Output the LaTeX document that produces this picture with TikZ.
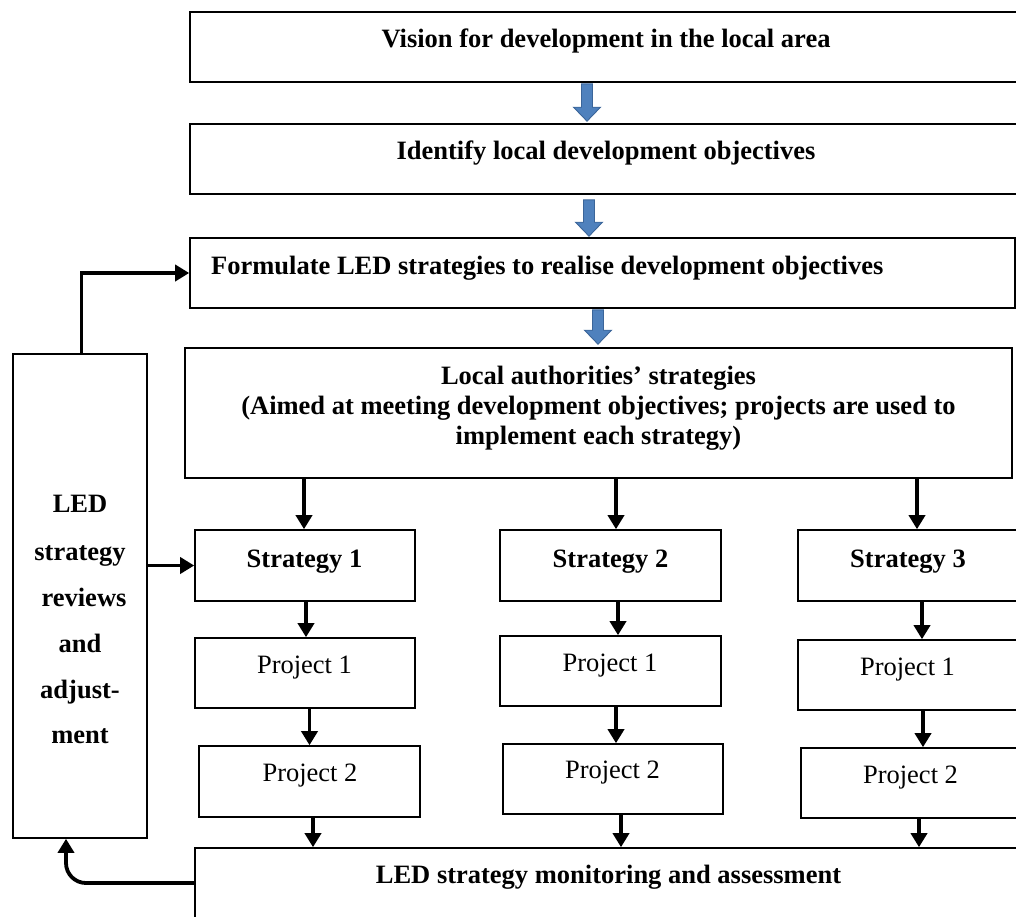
\documentclass[tikz,border=0pt]{standalone}
\usepackage{fontspec}
\setmainfont{Liberation Serif}
\usetikzlibrary{arrows.meta,calc}

\definecolor{ledblue}{HTML}{4F81BD}
\definecolor{ledblueedge}{HTML}{3B6599}

\tikzset{
  box/.style={draw=black, line width=1.6pt, fill=white, inner sep=0pt, rectangle},
  ttl/.style={font=\fontsize{26.5}{30}\selectfont\bfseries, anchor=base, inner sep=0pt},
  plain/.style={font=\fontsize{26.5}{30}\selectfont, anchor=base, inner sep=0pt},
  arr/.style={line width=3.6pt, -{Triangle[length=14pt,width=16pt]}},
  feed/.style={line width=3.8pt, -{Triangle[length=14pt,width=16pt]}},
}

% blue block arrow: #1 = top of the shaft, #2 = tip
\newcommand\ledblockarrow[2]{%
  \filldraw[fill=ledblue, draw=ledblueedge, line width=0.9pt, line join=miter]
    ($(#1)+(-5.5,0)$) -- ($(#1)+(5.5,0)$) -- ($(#2)+(5.5,-14)$) --
    ($(#2)+(13.5,-14)$) -- (#2) -- ($(#2)+(-13.5,-14)$) --
    ($(#2)+(-5.5,-14)$) -- cycle;}

\begin{document}
\begin{tikzpicture}[x=1pt, y=-1pt]
\useasboundingbox (0,0) rectangle (1016,916);
\clip (0,0) rectangle (1016,916);

% main chain
\node[box, minimum width=832pt, minimum height=70pt] (vision) at (606,47) {};
\node[box, minimum width=832pt, minimum height=70pt] (ident) at (606,159) {};
\node[box, minimum width=825pt, minimum height=70pt] (form) at (602.5,273) {};
\node[box, minimum width=827pt, minimum height=130pt] (local) at (598.5,413) {};

% strategies
\node[box, minimum width=220pt, minimum height=71pt] (s1) at (305,565.5) {};
\node[box, minimum width=221pt, minimum height=71pt] (s2) at (610.5,565.5) {};
\node[box, minimum width=220pt, minimum height=71pt] (s3) at (908,565.5) {};

% projects
\node[box, minimum width=220pt, minimum height=70pt] (p11) at (305,673) {};
\node[box, minimum width=221pt, minimum height=71pt] (p12) at (309.5,781.5) {};
\node[box, minimum width=221pt, minimum height=70pt] (p21) at (610.5,671) {};
\node[box, minimum width=220pt, minimum height=70pt] (p22) at (613,779) {};
\node[box, minimum width=219pt, minimum height=70pt] (p31) at (907.5,675) {};
\node[box, minimum width=219pt, minimum height=70pt] (p32) at (910.5,783) {};

% review box and monitoring box
\node[box, minimum width=134pt, minimum height=484pt] (lbox) at (80,596) {};
\node[box, minimum width=827pt, minimum height=70pt] (mon) at (608.5,883) {};

% texts
\node[ttl] (t-vision) at (606,47) {Vision for development in the local area};
\node[ttl] (t-ident) at (606,159) {Identify local development objectives};
\node[ttl, anchor=base west] (t-form) at (211,274) {Formulate LED strategies to realise development objectives};
\node[ttl] (t-local1) at (598.5,384) {Local authorities’ strategies};
\node[ttl] (t-local2) at (598.5,414) {(Aimed at meeting development objectives; projects are used to};
\node[ttl] (t-local3) at (598.5,444) {implement each strategy)};
\node[ttl] (t-s1) at (304.5,567) {Strategy 1};
\node[ttl] (t-s2) at (610.5,567) {Strategy 2};
\node[ttl] (t-s3) at (908,567) {Strategy 3};
\node[plain] (t-p11) at (304.5,673) {Project 1};
\node[plain] (t-p12) at (310,781) {Project 2};
\node[plain] (t-p21) at (610,671) {Project 1};
\node[plain] (t-p22) at (612.5,778) {Project 2};
\node[plain] (t-p31) at (907.5,675) {Project 1};
\node[plain] (t-p32) at (910.5,783) {Project 2};
\node[ttl] (t-mon) at (608.5,883) {LED strategy monitoring and assessment};
\node[ttl] (t-l1) at (80,512) {LED};
\node[ttl] (t-l2) at (80,560) {strategy};
\node[ttl] (t-l3) at (84,606) {reviews};
\node[ttl] (t-l4) at (80,652) {and};
\node[ttl] (t-l5) at (80,698) {adjust-};
\node[ttl] (t-l6) at (80,743) {ment};

% blue arrows down the main chain
\coordinate (b1s) at ([xshift=-19pt, yshift=-1pt]vision.south);
\coordinate (b1e) at ([xshift=-19pt, yshift=2pt]ident.north);
\coordinate (b2s) at ([xshift=-17pt, yshift=-5pt]ident.south);
\coordinate (b2e) at ([xshift=-13.5pt, yshift=1pt]form.north);
\coordinate (b3s) at ([xshift=-4.5pt, yshift=-1pt]form.south);
\coordinate (b3e) at ([xshift=-0.5pt, yshift=3pt]local.north);
\ledblockarrow{b1s}{b1e}
\ledblockarrow{b2s}{b2e}
\ledblockarrow{b3s}{b3e}

% strategies fed by the local authorities' box
\draw[arr] ([xshift=-1pt]s1.north |- local.south) -- ([xshift=-1pt]s1.north);
\draw[arr] ([xshift=5.5pt]s2.north |- local.south) -- ([xshift=5.5pt]s2.north);
\draw[arr] ([xshift=9pt]s3.north |- local.south) -- ([xshift=9pt]s3.north);

% strategy -> project 1 -> project 2 -> monitoring
\draw[arr] ([xshift=1pt]s1.south) -- ([xshift=1pt]s1.south |- p11.north);
\draw[arr] (p12.north |- p11.south) -- (p12.north);
\draw[arr] ([xshift=3.5pt]p12.south) -- ([xshift=3.5pt]p12.south |- mon.north);
\draw[arr] ([xshift=7.5pt]s2.south) -- ([xshift=7.5pt]s2.south |- p21.north);
\draw[arr] ([xshift=3pt]p22.north |- p21.south) -- ([xshift=3pt]p22.north);
\draw[arr] ([xshift=8pt]p22.south) -- ([xshift=8pt]p22.south |- mon.north);
\draw[arr] ([xshift=14pt]s3.south) -- ([xshift=14pt]s3.south |- p31.north);
\draw[arr] ([xshift=12.5pt]p32.north |- p31.south) -- ([xshift=12.5pt]p32.north);
\draw[arr] ([xshift=8.5pt]p32.south) -- ([xshift=8.5pt]p32.south |- mon.north);

% feedback loop
\draw[feed] ([xshift=1.5pt]lbox.north) |- (form.west);
\draw[feed] (lbox.east |- s1.west) -- (s1.west);
\coordinate (fb) at ([xshift=-14pt]lbox.south);
\draw[feed, rounded corners=20pt] (mon.west) -| (fb);
\end{tikzpicture}
\end{document}
